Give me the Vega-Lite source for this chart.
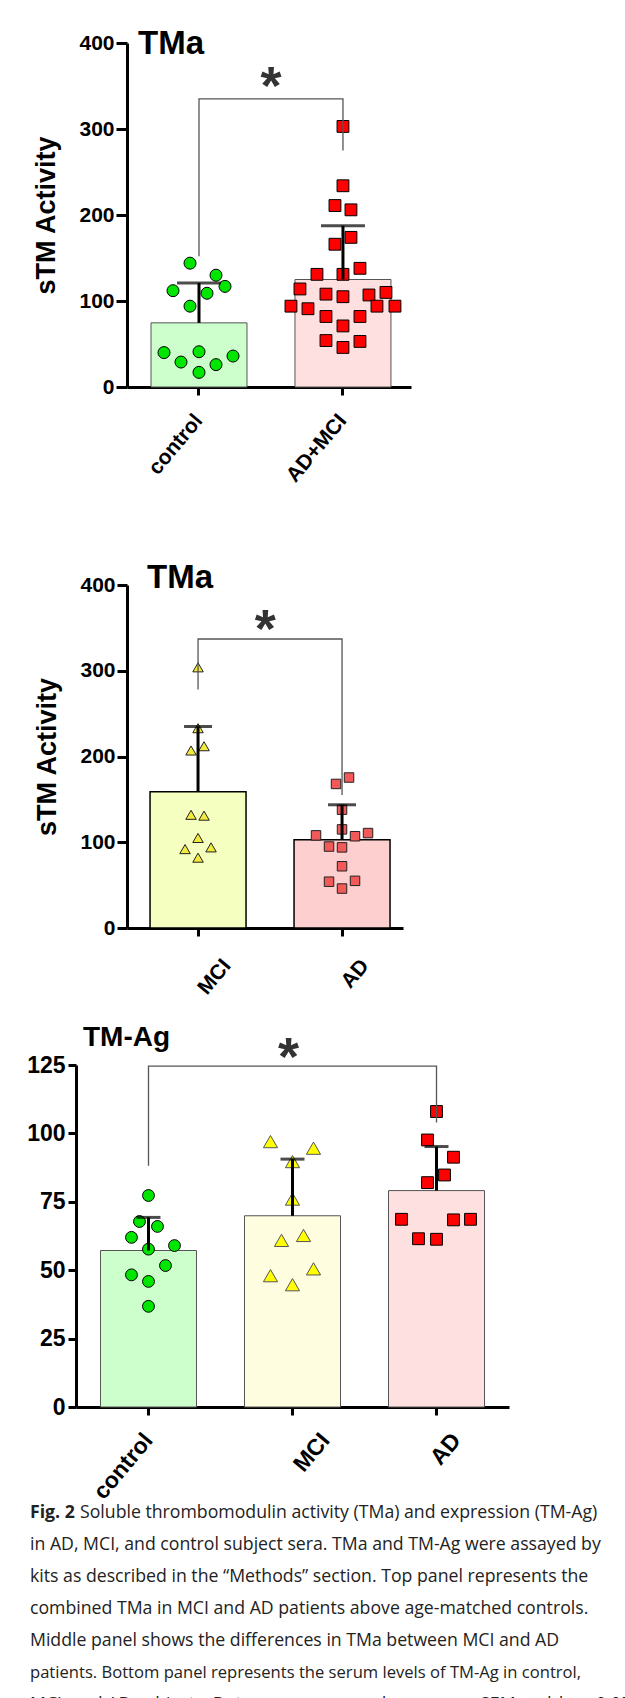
{
  "$schema": "https://vega.github.io/schema/vega-lite/v6.json",
  "padding": {"left": 26, "top": 28, "right": 5, "bottom": 0},
  "background": "white",
  "datasets": {
    "p1bars": [{"group": "control", "mean": 74.6, "upper": 121}, {"group": "AD+MCI", "mean": 125, "upper": 187.6}],
    "p1pts": [
      {"group": "control", "v": 144, "jit": -9}, {"group": "control", "v": 130, "jit": 17}, {"group": "control", "v": 117, "jit": 26},
      {"group": "control", "v": 112, "jit": -26}, {"group": "control", "v": 109, "jit": 8}, {"group": "control", "v": 94, "jit": -9},
      {"group": "control", "v": 41, "jit": 0}, {"group": "control", "v": 40, "jit": -35}, {"group": "control", "v": 36, "jit": 34},
      {"group": "control", "v": 29, "jit": -18}, {"group": "control", "v": 26, "jit": 17}, {"group": "control", "v": 17, "jit": 0},
      {"group": "AD+MCI", "v": 303, "jit": 0}, {"group": "AD+MCI", "v": 234, "jit": 0}, {"group": "AD+MCI", "v": 211, "jit": -8},
      {"group": "AD+MCI", "v": 206, "jit": 8}, {"group": "AD+MCI", "v": 174, "jit": 8}, {"group": "AD+MCI", "v": 166, "jit": -8},
      {"group": "AD+MCI", "v": 138, "jit": 17}, {"group": "AD+MCI", "v": 131, "jit": -26}, {"group": "AD+MCI", "v": 131, "jit": 0},
      {"group": "AD+MCI", "v": 114, "jit": -43}, {"group": "AD+MCI", "v": 108, "jit": -17}, {"group": "AD+MCI", "v": 105, "jit": 0},
      {"group": "AD+MCI", "v": 107, "jit": 26}, {"group": "AD+MCI", "v": 110, "jit": 43}, {"group": "AD+MCI", "v": 94, "jit": -52},
      {"group": "AD+MCI", "v": 91, "jit": -35}, {"group": "AD+MCI", "v": 94, "jit": 34}, {"group": "AD+MCI", "v": 94, "jit": 52},
      {"group": "AD+MCI", "v": 82, "jit": -17}, {"group": "AD+MCI", "v": 82, "jit": 17}, {"group": "AD+MCI", "v": 71, "jit": 0},
      {"group": "AD+MCI", "v": 54, "jit": -17}, {"group": "AD+MCI", "v": 53, "jit": 17}, {"group": "AD+MCI", "v": 46, "jit": 0}
    ],
    "p1br": [{"group": "control", "v": 152, "ord": 1}, {"group": "control", "v": 335, "ord": 2}, {"group": "AD+MCI", "v": 335, "ord": 3}, {"group": "AD+MCI", "v": 275, "ord": 4}],
    "p1star": [{"group": "control", "v": 329.5, "label": "*"}],
    "p2bars": [{"group": "MCI", "mean": 159, "upper": 235}, {"group": "AD", "mean": 103, "upper": 143.7}],
    "p2pts": [
      {"group": "MCI", "v": 304, "jit": 0}, {"group": "MCI", "v": 233, "jit": 0}, {"group": "MCI", "v": 207, "jit": -7},
      {"group": "MCI", "v": 212, "jit": 6}, {"group": "MCI", "v": 132, "jit": -7}, {"group": "MCI", "v": 131, "jit": 6},
      {"group": "MCI", "v": 105, "jit": 0}, {"group": "MCI", "v": 92, "jit": -13}, {"group": "MCI", "v": 94, "jit": 13},
      {"group": "MCI", "v": 82, "jit": 0},
      {"group": "AD", "v": 175.5, "jit": 7}, {"group": "AD", "v": 168, "jit": -6}, {"group": "AD", "v": 138, "jit": 0},
      {"group": "AD", "v": 115, "jit": 0}, {"group": "AD", "v": 108, "jit": -26}, {"group": "AD", "v": 107, "jit": 13},
      {"group": "AD", "v": 110.7, "jit": 26}, {"group": "AD", "v": 95, "jit": -13}, {"group": "AD", "v": 94, "jit": 0},
      {"group": "AD", "v": 72, "jit": 0}, {"group": "AD", "v": 54, "jit": -13}, {"group": "AD", "v": 55, "jit": 13},
      {"group": "AD", "v": 46, "jit": 0}
    ],
    "p2br": [{"group": "MCI", "v": 278, "ord": 1}, {"group": "MCI", "v": 337, "ord": 2}, {"group": "AD", "v": 337, "ord": 3}, {"group": "AD", "v": 155, "ord": 4}],
    "p2star": [{"group": "MCI", "v": 328, "label": "*"}],
    "p3bars": [{"group": "control", "mean": 57.2, "upper": 69.3}, {"group": "MCI", "mean": 69.9, "upper": 90.6}, {"group": "AD", "mean": 79.1, "upper": 95.2}],
    "p3pts": [
      {"group": "control", "v": 77.3, "jit": 0}, {"group": "control", "v": 67.8, "jit": -9}, {"group": "control", "v": 66, "jit": 9},
      {"group": "control", "v": 62, "jit": -17}, {"group": "control", "v": 57.7, "jit": 0}, {"group": "control", "v": 59, "jit": 26},
      {"group": "control", "v": 51.7, "jit": 17}, {"group": "control", "v": 48.3, "jit": -17}, {"group": "control", "v": 45.9, "jit": 0},
      {"group": "control", "v": 36.8, "jit": 0},
      {"group": "MCI", "v": 97, "jit": -22}, {"group": "MCI", "v": 94.6, "jit": 21}, {"group": "MCI", "v": 89.7, "jit": 0},
      {"group": "MCI", "v": 76, "jit": 0}, {"group": "MCI", "v": 60.9, "jit": -11}, {"group": "MCI", "v": 62.7, "jit": 11},
      {"group": "MCI", "v": 48, "jit": -22}, {"group": "MCI", "v": 50.5, "jit": 21}, {"group": "MCI", "v": 44.7, "jit": 0},
      {"group": "AD", "v": 108, "jit": 0}, {"group": "AD", "v": 97.6, "jit": -9}, {"group": "AD", "v": 91.3, "jit": 17},
      {"group": "AD", "v": 84.8, "jit": 8}, {"group": "AD", "v": 82, "jit": -9}, {"group": "AD", "v": 68.6, "jit": -35},
      {"group": "AD", "v": 68.6, "jit": 34}, {"group": "AD", "v": 68.4, "jit": 17}, {"group": "AD", "v": 61.5, "jit": -18},
      {"group": "AD", "v": 61.3, "jit": 0}
    ],
    "p3br": [{"group": "control", "v": 88.2, "ord": 1}, {"group": "control", "v": 124.6, "ord": 2}, {"group": "AD", "v": 124.6, "ord": 3}, {"group": "AD", "v": 104, "ord": 4}],
    "p3star": [{"group": "MCI", "v": 121.5, "label": "*"}],
    "caption": [
      {"line": 1, "kind": "bold", "text": "Fig. 2"},
      {"line": 1, "kind": "rest", "text": "Soluble thrombomodulin activity (TMa) and expression (TM-Ag)"},
      {"line": 2, "kind": "plain", "text": "in AD, MCI, and control subject sera. TMa and TM-Ag were assayed by"},
      {"line": 3, "kind": "plain", "text": "kits as described in the “Methods” section. Top panel represents the"},
      {"line": 4, "kind": "plain", "text": "combined TMa in MCI and AD patients above age-matched controls."},
      {"line": 5, "kind": "plain", "text": "Middle panel shows the differences in TMa between MCI and AD"},
      {"line": 6, "kind": "long", "text": "patients. Bottom panel represents the serum levels of TM-Ag in control,"},
      {"line": 7, "kind": "plain", "text": "MCI, and AD subjects. Data were expressed as mean ± SEM and *p < 0.05"}
    ]
  },
  "vconcat": [
    {
      "vconcat": [
        {
          "hconcat": [
            {"width": 1, "height": 1, "data": {"values": [{"k": 0}]}, "mark": {"type": "point", "opacity": 0}, "encoding": {}},
            {
              "vconcat": [
                {
                  "width": 284, "height": 344,
                  "title": {"text": "TMa", "anchor": "start", "frame": "group", "fontSize": 33, "fontWeight": "bold", "font": "Liberation Sans", "color": "black", "baseline": "alphabetic", "offset": -20, "dx": 11, "dy": 35},
                  "encoding": {
                    "x": {"field": "group", "type": "nominal", "title": null, "scale": {"domain": ["control", "AD+MCI"], "paddingInner": 0.3333, "paddingOuter": 0.153, "align": 0.545}, "axis": {"labelOffset": 0, "labelPadding": 22}}
                  },
                  "resolve": {"scale": {"xOffset": "independent"}},
                  "layer": [
                    {"data": {"name": "p1bars"}, "mark": {"type": "bar", "stroke": "#555", "strokeWidth": 1},
                     "encoding": {
                       "y": {"field": "mean", "type": "quantitative", "title": "sTM Activity", "scale": {"domain": [0, 400], "nice": false}, "axis": {"values": [0, 100, 200, 300, 400]}},
                       "fill": {"field": "group", "type": "nominal", "scale": {"domain": ["control", "AD+MCI"], "range": ["#ccffcc", "#ffe0e0"]}, "legend": null}}},
                    {"data": {"name": "p1pts"}, "transform": [{"filter": "datum.group === 'control'"}],
                     "mark": {"type": "point", "shape": "circle", "filled": true, "fill": "#00e600", "stroke": "black", "strokeWidth": 1, "size": 144, "opacity": 1},
                     "encoding": {
                       "xOffset": {"field": "jit", "type": "quantitative", "scale": {"domain": [-48, 48], "range": [0, 96]}},
                       "y": {"field": "v", "type": "quantitative", "title": "sTM Activity", "scale": {"domain": [0, 400], "nice": false}}}},
                    {"data": {"name": "p1pts"}, "transform": [{"filter": "datum.group === 'AD+MCI'"}],
                     "mark": {"type": "point", "shape": "square", "filled": true, "fill": "#ff0000", "stroke": "black", "strokeWidth": 1, "size": 140, "opacity": 1},
                     "encoding": {
                       "xOffset": {"field": "jit", "type": "quantitative", "scale": {"domain": [-48, 48], "range": [0, 96]}},
                       "y": {"field": "v", "type": "quantitative", "title": "sTM Activity", "scale": {"domain": [0, 400], "nice": false}}}},
                    {"data": {"name": "p1bars"}, "mark": {"type": "rule", "color": "black", "strokeWidth": 3},
                     "encoding": {
                       "y": {"field": "mean", "type": "quantitative", "title": "sTM Activity", "scale": {"domain": [0, 400], "nice": false}},
                       "y2": {"field": "upper"}}},
                    {"data": {"name": "p1bars"}, "mark": {"type": "tick", "color": "black", "thickness": 3, "size": 44},
                     "encoding": {
                       "y": {"field": "upper", "type": "quantitative", "title": "sTM Activity", "scale": {"domain": [0, 400], "nice": false}}}},
                    {"data": {"name": "p1br"}, "mark": {"type": "line", "color": "#555", "strokeWidth": 1.3},
                     "encoding": {
                       "y": {"field": "v", "type": "quantitative", "title": "sTM Activity", "scale": {"domain": [0, 400], "nice": false}},
                       "order": {"field": "ord", "type": "quantitative"}}},
                    {"data": {"name": "p1star"}, "mark": {"type": "text", "font": "Liberation Sans", "fontSize": 54, "fontWeight": "bold", "color": "#333", "baseline": "alphabetic", "align": "center"},
                     "encoding": {
                       "x": {"field": "group", "type": "nominal", "title": null, "bandPosition": 1.25},
                       "y": {"field": "v", "type": "quantitative", "title": "sTM Activity", "scale": {"domain": [0, 400], "nice": false}},
                       "text": {"field": "label"}}}
                  ]
                },
                {
                  "width": 276, "height": 343,
                  "title": {"text": "TMa", "anchor": "start", "frame": "group", "fontSize": 33, "fontWeight": "bold", "font": "Liberation Sans", "color": "black", "baseline": "alphabetic", "offset": -13, "dx": 20, "dy": 34},
                  "encoding": {
                    "x": {"field": "group", "type": "nominal", "title": null, "scale": {"domain": ["MCI", "AD"], "paddingInner": 0.3333, "paddingOuter": 0.125, "align": 0.64}, "axis": {"labelPadding": 26, "labelOffset": {"condition": {"test": "datum.value === 'MCI'", "value": 29}, "value": 23}}}
                  },
                  "resolve": {"scale": {"xOffset": "independent"}},
                  "layer": [
                    {"data": {"name": "p2bars"}, "mark": {"type": "bar", "stroke": "black", "strokeWidth": 1.5},
                     "encoding": {
                       "y": {"field": "mean", "type": "quantitative", "title": "sTM Activity", "scale": {"domain": [0, 400], "nice": false}, "axis": {"values": [0, 100, 200, 300, 400], "tickSize": 10}},
                       "fill": {"field": "group", "type": "nominal", "scale": {"domain": ["MCI", "AD"], "range": ["#f4ffc0", "#fdcfcf"]}, "legend": null}}},
                    {"data": {"name": "p2pts"}, "transform": [{"filter": "datum.group === 'MCI'"}],
                     "mark": {"type": "point", "shape": "triangle-up", "filled": true, "fill": "#f2ea3c", "stroke": "#222", "strokeWidth": 1, "size": 110, "opacity": 1},
                     "encoding": {
                       "xOffset": {"field": "jit", "type": "quantitative", "scale": {"domain": [-48, 48], "range": [0, 96]}},
                       "y": {"field": "v", "type": "quantitative", "title": "sTM Activity", "scale": {"domain": [0, 400], "nice": false}}}},
                    {"data": {"name": "p2pts"}, "transform": [{"filter": "datum.group === 'AD'"}],
                     "mark": {"type": "point", "shape": "square", "filled": true, "fill": "#f25a5a", "stroke": "#222", "strokeWidth": 1, "size": 90, "opacity": 1},
                     "encoding": {
                       "xOffset": {"field": "jit", "type": "quantitative", "scale": {"domain": [-48, 48], "range": [0, 96]}},
                       "y": {"field": "v", "type": "quantitative", "title": "sTM Activity", "scale": {"domain": [0, 400], "nice": false}}}},
                    {"data": {"name": "p2bars"}, "mark": {"type": "rule", "color": "black", "strokeWidth": 3},
                     "encoding": {
                       "y": {"field": "mean", "type": "quantitative", "title": "sTM Activity", "scale": {"domain": [0, 400], "nice": false}},
                       "y2": {"field": "upper"}}},
                    {"data": {"name": "p2bars"}, "mark": {"type": "tick", "color": "black", "thickness": 3, "size": 28},
                     "encoding": {
                       "y": {"field": "upper", "type": "quantitative", "title": "sTM Activity", "scale": {"domain": [0, 400], "nice": false}}}},
                    {"data": {"name": "p2br"}, "mark": {"type": "line", "color": "#555", "strokeWidth": 1.3},
                     "encoding": {
                       "y": {"field": "v", "type": "quantitative", "title": "sTM Activity", "scale": {"domain": [0, 400], "nice": false}},
                       "order": {"field": "ord", "type": "quantitative"}}},
                    {"data": {"name": "p2star"}, "mark": {"type": "text", "font": "Liberation Sans", "fontSize": 54, "fontWeight": "bold", "color": "#333", "baseline": "alphabetic", "align": "center"},
                     "encoding": {
                       "x": {"field": "group", "type": "nominal", "title": null, "bandPosition": 1.2},
                       "y": {"field": "v", "type": "quantitative", "title": "sTM Activity", "scale": {"domain": [0, 400], "nice": false}},
                       "text": {"field": "label"}}}
                  ]
                }
              ],
              "spacing": 76,
              "resolve": {"scale": {"fill": "independent"}}
            }
          ],
          "spacing": -48,
          "resolve": {"scale": {"fill": "independent"}}
        },
        {
          "width": 433, "height": 342,
          "title": {"text": "TM-Ag", "anchor": "start", "frame": "group", "fontSize": 28, "fontWeight": "bold", "font": "Liberation Sans", "color": "black", "baseline": "alphabetic", "offset": 8, "dx": 7, "dy": 50},
          "encoding": {
            "x": {"field": "group", "type": "nominal", "title": null, "scale": {"domain": ["control", "MCI", "AD"], "paddingInner": 0.3333, "paddingOuter": 0.17}, "axis": {"labelFontSize": 23, "labelPadding": 21, "labelOffset": {"condition": [{"test": "datum.value === 'MCI'", "value": 33}, {"test": "datum.value === 'AD'", "value": 20}], "value": 0}}}
          },
          "resolve": {"scale": {"xOffset": "independent"}},
          "layer": [
            {"data": {"name": "p3bars"}, "mark": {"type": "bar", "stroke": "#555", "strokeWidth": 1},
             "encoding": {
               "y": {"field": "mean", "type": "quantitative", "title": null, "scale": {"domain": [0, 125], "nice": false}, "axis": {"values": [0, 25, 50, 75, 100, 125], "labelFontSize": 23, "tickSize": 8, "labelPadding": 3}},
               "fill": {"field": "group", "type": "nominal", "scale": {"domain": ["control", "MCI", "AD"], "range": ["#ccffcc", "#fffde0", "#ffe0e0"]}, "legend": null}}},
            {"data": {"name": "p3pts"}, "transform": [{"filter": "datum.group === 'control'"}],
             "mark": {"type": "point", "shape": "circle", "filled": true, "fill": "#00e600", "stroke": "black", "strokeWidth": 1, "size": 140, "opacity": 1},
             "encoding": {
               "xOffset": {"field": "jit", "type": "quantitative", "scale": {"domain": [-48, 48], "range": [0, 96]}},
               "y": {"field": "v", "type": "quantitative", "title": null, "scale": {"domain": [0, 125], "nice": false}}}},
            {"data": {"name": "p3pts"}, "transform": [{"filter": "datum.group === 'MCI'"}],
             "mark": {"type": "point", "shape": "triangle-up", "filled": true, "fill": "#ffff00", "stroke": "#555", "strokeWidth": 1, "size": 200, "opacity": 1},
             "encoding": {
               "xOffset": {"field": "jit", "type": "quantitative", "scale": {"domain": [-48, 48], "range": [0, 96]}},
               "y": {"field": "v", "type": "quantitative", "title": null, "scale": {"domain": [0, 125], "nice": false}}}},
            {"data": {"name": "p3pts"}, "transform": [{"filter": "datum.group === 'AD'"}],
             "mark": {"type": "point", "shape": "square", "filled": true, "fill": "#ff0000", "stroke": "black", "strokeWidth": 1, "size": 140, "opacity": 1},
             "encoding": {
               "xOffset": {"field": "jit", "type": "quantitative", "scale": {"domain": [-48, 48], "range": [0, 96]}},
               "y": {"field": "v", "type": "quantitative", "title": null, "scale": {"domain": [0, 125], "nice": false}}}},
            {"data": {"name": "p3bars"}, "mark": {"type": "rule", "color": "black", "strokeWidth": 3},
             "encoding": {
               "y": {"field": "mean", "type": "quantitative", "title": null, "scale": {"domain": [0, 125], "nice": false}},
               "y2": {"field": "upper"}}},
            {"data": {"name": "p3bars"}, "mark": {"type": "tick", "color": "black", "thickness": 3, "size": 24},
             "encoding": {
               "y": {"field": "upper", "type": "quantitative", "title": null, "scale": {"domain": [0, 125], "nice": false}}}},
            {"data": {"name": "p3br"}, "mark": {"type": "line", "color": "#555", "strokeWidth": 1.3},
             "encoding": {
               "y": {"field": "v", "type": "quantitative", "title": null, "scale": {"domain": [0, 125], "nice": false}},
               "order": {"field": "ord", "type": "quantitative"}}},
            {"data": {"name": "p3star"}, "mark": {"type": "text", "font": "Liberation Sans", "fontSize": 54, "fontWeight": "bold", "color": "#333", "baseline": "alphabetic", "align": "center", "dx": -4},
             "encoding": {
               "y": {"field": "v", "type": "quantitative", "title": null, "scale": {"domain": [0, 125], "nice": false}},
               "text": {"field": "label"}}}
          ]
        }
      ],
      "spacing": 25,
      "resolve": {"scale": {"fill": "independent"}}
    },
    {
      "width": 590, "height": 224,
      "data": {"name": "caption"},
      "encoding": {
        "y": {"field": "line", "type": "ordinal", "axis": null, "scale": {"type": "point", "padding": 0.5}},
        "x": {"value": 0},
        "text": {"field": "text"}
      },
      "layer": [
        {"transform": [{"filter": "datum.kind === 'bold'"}], "mark": {"type": "text", "align": "left", "baseline": "middle", "font": "Open Sans", "fontSize": 17.7, "fontWeight": "bold", "color": "#222", "dx": -46, "dy": -7}},
        {"transform": [{"filter": "datum.kind === 'rest'"}], "mark": {"type": "text", "align": "left", "baseline": "middle", "font": "Open Sans", "fontSize": 17.7, "color": "#222", "dx": 4, "dy": -7}},
        {"transform": [{"filter": "datum.kind === 'plain'"}], "mark": {"type": "text", "align": "left", "baseline": "middle", "font": "Open Sans", "fontSize": 17.7, "color": "#222", "dx": -46, "dy": -7}},
        {"transform": [{"filter": "datum.kind === 'long'"}], "mark": {"type": "text", "align": "left", "baseline": "middle", "font": "Open Sans", "fontSize": 16.6, "color": "#222", "dx": -46, "dy": -7}}
      ]
    }
  ],
  "spacing": -33,
  "resolve": {"scale": {"fill": "independent"}},
  "config": {
    "view": {"stroke": null},
    "font": "Liberation Sans",
    "axis": {"domainColor": "black", "domainWidth": 3, "tickColor": "black", "tickWidth": 3, "grid": false, "labelColor": "black", "labelFont": "Liberation Sans", "labelFontWeight": "bold", "titleColor": "black", "titleFont": "Liberation Sans", "titleFontWeight": "bold", "labelOverlap": false, "labelFlush": false, "labelBound": false},
    "axisX": {"tickSize": 8, "labelAngle": -50, "labelAlign": "right", "labelBaseline": "middle", "labelPadding": 22, "labelFontSize": 21},
    "axisY": {"tickSize": 11, "labelPadding": 2, "labelFontSize": 21, "titleFontSize": 27, "titlePadding": 18}
  }
}
